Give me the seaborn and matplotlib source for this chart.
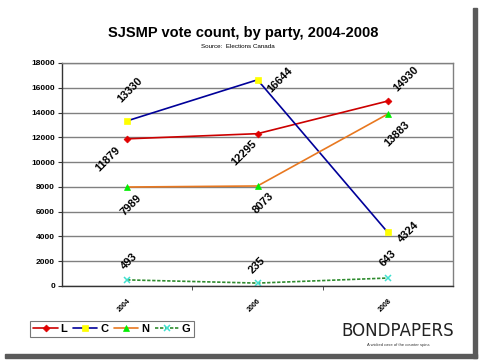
import matplotlib
matplotlib.use("Agg")
from matplotlib import pyplot as plt
from matplotlib.patches import Rectangle
import pandas as pd
import seaborn as sns

years = ["2004", "2006", "2008"]
parties = ["L", "C", "N", "G"]
votes_l = [11879, 12295, 14930]
votes_c = [13330, 16644, 4324]
votes_n = [7989, 8073, 13883]
votes_g = [493, 235, 643]

title = "SJSMP vote count, by party, 2004-2008"
subtitle = "Source:  Elections Canada"

sns.set_style("white")
plt.rcParams["font.family"] = ["Liberation Sans", "DejaVu Sans"]
plt.rcParams["text.color"] = "black"
plt.rcParams["xtick.color"] = "black"
plt.rcParams["ytick.color"] = "black"

df = pd.DataFrame({"year": years * 4,
                   "party": [p for p in parties for _ in years],
                   "votes": votes_l + votes_c + votes_n + votes_g})

styles = {
    "L": dict(color="#CC0000", marker="D", mfc="#E00000", mec="#E00000", ms=3.5, ls="-"),
    "C": dict(color="#000099", marker="s", mfc="#FFFF00", mec="#FFFF00", ms=4.5, ls="-"),
    "N": dict(color="#E87820", marker="^", mfc="#00EE00", mec="#00EE00", ms=5, ls="-"),
    "G": dict(color="#2E8B2E", marker="x", mfc="#40E0D0", mec="#40E0D0", ms=5, mew=1.1, ls=(0, (2, 1))),
}
# label offsets in pixels (dx, dy), per party per year
offsets = {
    "L": [(-19, -20), (-13, -19), (18, 22)],
    "C": [(3, 31), (23, 0), (21, 0)],
    "N": [(4, -18), (6, -17), (9, -20)],
    "G": [(2, 19), (0, 18), (0, 20)],
}

fig = plt.figure(figsize=(4.79, 3.6), dpi=100)
ax = fig.add_axes([62 / 479, 1 - 286 / 360, (453 - 62) / 479, (286 - 63) / 360])

for p in parties:
    sub = df[df["party"] == p]
    st = styles[p]
    sns.lineplot(data=sub, x="year", y="votes", ax=ax, label=p, color=st["color"],
                 marker=st["marker"], markerfacecolor=st["mfc"], markeredgecolor=st["mec"],
                 markersize=st["ms"], markeredgewidth=st.get("mew", 0.5), linestyle=st["ls"],
                 linewidth=1.2)
    for i, (yr, v) in enumerate(zip(sub["year"], sub["votes"])):
        dx, dy = offsets[p][i]
        ax.annotate(str(v), (i, v), xytext=(dx, dy), textcoords="offset pixels",
                    rotation=45, rotation_mode="anchor", ha="center", va="center",
                    fontsize=8, fontweight="bold", color="black")

ax.set_xlim(-0.5, 2.5)
ax.set_ylim(0, 18000)
ax.set_yticks(range(0, 18001, 2000))
ax.yaxis.grid(True, color="#808080", linewidth=1)
ax.set_axisbelow(True)
ax.set_xticks([0, 1, 2])
ax.set_xticklabels(years, rotation=45, ha="right", rotation_mode="anchor",
                   fontsize=5, fontweight="bold")
ax.set_xticks([0.5, 1.5], minor=True)
ax.tick_params(axis="x", which="major", length=0, pad=8)
ax.tick_params(axis="x", which="minor", length=3, bottom=True, color="#333333")
ax.tick_params(axis="y", length=3, left=True, labelsize=6, color="#333333", pad=2)
for lab in ax.get_yticklabels():
    lab.set_fontweight("bold")
ax.set_xlabel("")
ax.set_ylabel("")
for s in ["top", "right"]:
    ax.spines[s].set_color("#808080")
for s in ["left", "bottom"]:
    ax.spines[s].set_color("#333333")
for s in ax.spines.values():
    s.set_linewidth(1)

leg = ax.legend(loc="center", bbox_to_anchor=(112 / 479, 1 - 329 / 360),
                bbox_transform=fig.transFigure, ncol=4, frameon=True, fancybox=False,
                edgecolor="#555555", handlelength=2.2, columnspacing=0.5,
                handletextpad=0.25, borderpad=0.3, borderaxespad=0,
                prop={"weight": "bold", "size": 8})
leg.get_frame().set_linewidth(0.8)

fig.text(243 / 479, 1 - 33 / 360, title, ha="center", va="center",
         fontsize=10.5, fontweight="bold")
fig.text(238 / 479, 1 - 47 / 360, subtitle, ha="center", va="center", fontsize=4.5)
fig.text(398 / 479, 1 - 331 / 360, "BONDPAPERS", ha="center", va="center",
         fontsize=12, family="DejaVu Sans", color="#222222")
fig.text(398 / 479, 1 - 345 / 360, "A wicked case of the counter spins",
         ha="center", va="center", fontsize=3, color="#333333")

# drop shadow of the card
fig.patches.append(Rectangle((473 / 479, 2 / 360), 4 / 479, 350 / 360,
                             transform=fig.transFigure, color="#5a5a5a", zorder=0))
fig.patches.append(Rectangle((5 / 479, 2 / 360), 472 / 479, 4 / 360,
                             transform=fig.transFigure, color="#5a5a5a", zorder=0))

fig.savefig("out.png", dpi=100)
